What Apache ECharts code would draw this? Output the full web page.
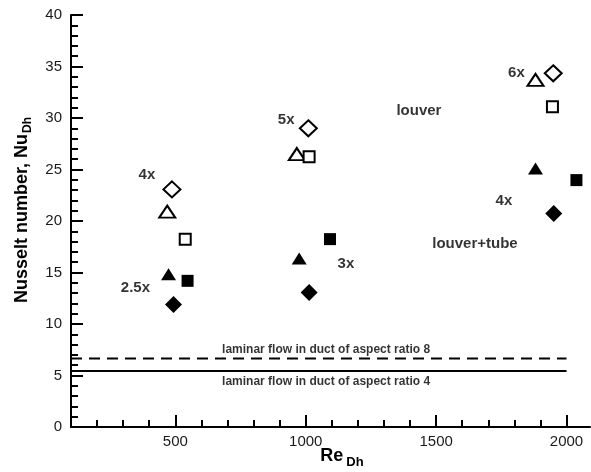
<!DOCTYPE html>
<html>
<head>
<meta charset="utf-8">
<script src="https://cdn.jsdelivr.net/npm/echarts@6/dist/echarts.min.js"></script>
<style>
  html, body { margin: 0; padding: 0; background: #fff; }
  #chart { width: 591px; height: 472px; }
</style>
</head>
<body>
<div id="chart"></div>
<script>
// Measured Nusselt numbers vs Reynolds number, grouped by marker style
const openDiamond    = [[487, 23.07], [1010, 29.0], [1949, 34.34]];
const openTriangle   = [[469, 20.9], [966, 26.5], [1881, 33.7]];
const openSquare     = [[538, 18.24], [1013, 26.24], [1946, 31.1]];
const filledTriangle = [[474, 14.84], [975, 16.37], [1881, 25.1]];
const filledSquare   = [[547, 14.19], [1093, 18.24], [2038, 23.97]];
const filledDiamond  = [[493, 11.9], [1013, 13.06], [1951, 20.74]];

// Fully developed laminar duct-flow reference values
const laminarAR8 = 6.65;
const laminarAR4 = 5.44;
const laminarReRange = [100, 2000];

// Text annotations: [text, Re, Nu]
const annotations = [
  ['4x', 391, 24.46],
  ['2.5x', 347, 13.48],
  ['5x', 925, 29.8],
  ['6x', 1808, 34.4],
  ['louver', 1434, 30.67],
  ['4x', 1760, 21.96],
  ['louver+tube', 1649, 17.76],
  ['3x', 1154, 15.88]
];
const lineNotes = [
  ['laminar flow in duct of aspect ratio 8', 1078, 7.55],
  ['laminar flow in duct of aspect ratio 4', 1078, 4.37]
];

// Axis ticks
const xMin = 100, xMax = 2090;
const yMin = 0, yMax = 40;
const xMajorTicks = [500, 1000, 1500, 2000];
const xMinorTicks = [200, 300, 400, 500, 600, 700, 800, 900, 1000, 1100, 1200, 1300, 1400,
                     1500, 1600, 1700, 1800, 1900, 2000];
const yMajorTicks = [0, 5, 10, 15, 20, 25, 30, 35, 40];
const yMinorTicks = [1, 2, 3, 4, 5, 6, 7, 8, 9, 10, 11, 12, 13, 14, 15, 16, 17, 18, 19, 20,
                     21, 22, 23, 24, 25, 26, 27, 28, 29, 30, 31, 32, 33, 34, 35, 36, 37, 38, 39, 40];

const FONT = '"Liberation Sans", Arial, sans-serif';
const gridBox = { left: 71, right: 1, top: 15, bottom: 45, containLabel: false };

function markerSeries(name, data, symbol, size, filled) {
  return {
    name, type: 'scatter', data, symbol, symbolSize: size,
    xAxisIndex: 0, yAxisIndex: 0, z: 5,
    itemStyle: { color: filled ? '#000' : '#fff', borderColor: '#000', borderWidth: filled ? 0 : 2, opacity: 1 },
    emphasis: { disabled: true }
  };
}

function refLine(name, value, dashed) {
  return {
    name, type: 'line', xAxisIndex: 0, yAxisIndex: 0, z: 3,
    data: [[laminarReRange[0], value], [laminarReRange[1], value]],
    symbol: 'none',
    lineStyle: { color: '#000', width: 2, type: dashed ? [11, 7] : 'solid' },
    emphasis: { disabled: true }
  };
}

function textSeries(name, items, fontSize) {
  return {
    name, type: 'scatter', xAxisIndex: 0, yAxisIndex: 0, z: 6,
    symbolSize: 0, silent: true,
    data: items.map(a => ({ name: a[0], value: [a[1], a[2]] })),
    label: {
      show: true, position: 'inside', formatter: '{b}',
      fontFamily: FONT, fontWeight: 'bold', fontSize, color: '#000',
      textBorderWidth: 0
    }
  };
}

const plainNumber = v => String(v);

const chart = echarts.init(document.getElementById('chart'));
chart.setOption({
  animation: false,
  backgroundColor: '#fff',
  grid: [Object.assign({}, gridBox), Object.assign({}, gridBox)],
  xAxis: [
    {
      gridIndex: 0, type: 'value', min: xMin, max: xMax, position: 'bottom',
      axisLine: { show: true, onZero: false, lineStyle: { color: '#000', width: 2 } },
      axisTick: { show: true, inside: true, length: 7, customValues: xMinorTicks, lineStyle: { color: '#000', width: 2 } },
      axisLabel: { show: false },
      splitLine: { show: false }
    },
    {
      gridIndex: 1, type: 'value', min: xMin, max: xMax, position: 'bottom',
      axisLine: { show: false, onZero: false },
      axisTick: { show: true, inside: true, length: 12, customValues: xMajorTicks, lineStyle: { color: '#000', width: 2 } },
      axisLabel: { show: true, customValues: xMajorTicks, formatter: plainNumber, margin: 7, fontFamily: FONT, fontSize: 15, color: '#1a1a1a' },
      splitLine: { show: false }
    }
  ],
  yAxis: [
    {
      gridIndex: 0, type: 'value', min: yMin, max: yMax, position: 'left',
      axisLine: { show: true, onZero: false, lineStyle: { color: '#000', width: 2 } },
      axisTick: { show: true, inside: true, length: 7, customValues: yMinorTicks, lineStyle: { color: '#000', width: 2 } },
      axisLabel: { show: false },
      splitLine: { show: false }
    },
    {
      gridIndex: 1, type: 'value', min: yMin, max: yMax, position: 'left',
      axisLine: { show: false, onZero: false },
      axisTick: { show: true, inside: true, length: 12, customValues: yMajorTicks, lineStyle: { color: '#000', width: 2 } },
      axisLabel: { show: true, customValues: yMajorTicks, formatter: plainNumber, margin: 9, fontFamily: FONT, fontSize: 15, color: '#1a1a1a' },
      splitLine: { show: false }
    }
  ],
  graphic: [
    {
      type: 'text', x: 22, y: 210, rotation: Math.PI / 2,
      style: {
        text: '{a|Nusselt number, Nu}{s|Dh}',
        align: 'center', verticalAlign: 'middle',
        rich: {
          a: { fontFamily: FONT, fontWeight: 'bold', fontSize: 18, lineHeight: 18, verticalAlign: 'top', fill: '#000' },
          s: { fontFamily: FONT, fontWeight: 'bold', fontSize: 12, lineHeight: 12, padding: [9, 0, 0, 1], verticalAlign: 'top', fill: '#000' }
        }
      }
    },
    {
      type: 'text', x: 342, y: 456,
      style: {
        text: '{a|Re}{s|Dh}',
        align: 'center', verticalAlign: 'middle',
        rich: {
          a: { fontFamily: FONT, fontWeight: 'bold', fontSize: 18, lineHeight: 18, verticalAlign: 'top', fill: '#000' },
          s: { fontFamily: FONT, fontWeight: 'bold', fontSize: 13, lineHeight: 13, padding: [9, 0, 0, 3], verticalAlign: 'top', fill: '#000' }
        }
      }
    }
  ],
  series: [
    refLine('laminar AR 8', laminarAR8, true),
    refLine('laminar AR 4', laminarAR4, false),
    markerSeries('open diamond', openDiamond, 'diamond', [17, 16], false),
    markerSeries('open triangle', openTriangle, 'triangle', [16, 12], false),
    markerSeries('open square', openSquare, 'rect', 11, false),
    markerSeries('filled triangle', filledTriangle, 'triangle', [15, 12], true),
    markerSeries('filled square', filledSquare, 'rect', 12, true),
    markerSeries('filled diamond', filledDiamond, 'diamond', 17, true),
    textSeries('annotations', annotations, 15),
    textSeries('line notes', lineNotes, 12)
  ]
});
</script>
</body>
</html>
